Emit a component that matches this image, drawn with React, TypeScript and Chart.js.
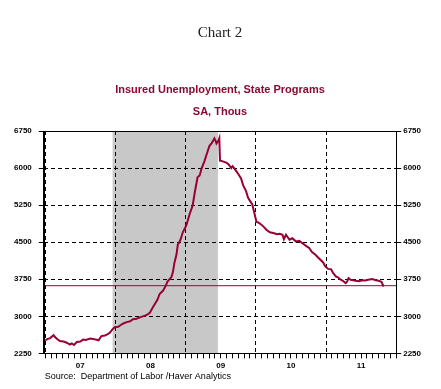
import React, { useEffect, useRef } from 'react';
import { Chart, registerables } from 'chart.js';

Chart.register(...registerables);

// Observation dates (decimal years) and insured unemployment, SA, thousands
const dates = [
  2007.00, 2007.03, 2007.07, 2007.12, 2007.14, 2007.17, 2007.21, 2007.26, 2007.30, 2007.33,
  2007.35, 2007.38, 2007.41, 2007.45, 2007.50, 2007.54, 2007.58, 2007.64, 2007.68, 2007.72,
  2007.76, 2007.80, 2007.85, 2007.89, 2007.92, 2007.96, 2007.99, 2008.04, 2008.08, 2008.12,
  2008.16, 2008.21, 2008.25, 2008.30, 2008.35, 2008.39, 2008.42, 2008.46, 2008.49, 2008.52,
  2008.56, 2008.60, 2008.63, 2008.68, 2008.72, 2008.74, 2008.80, 2008.82, 2008.84, 2008.87,
  2008.89, 2008.90, 2008.93, 2008.96, 2009.01, 2009.06, 2009.10, 2009.13, 2009.17, 2009.20,
  2009.23, 2009.27, 2009.30, 2009.34, 2009.37, 2009.39, 2009.41, 2009.43, 2009.44, 2009.47,
  2009.48, 2009.49, 2009.52, 2009.58, 2009.61, 2009.65, 2009.67, 2009.72, 2009.75, 2009.79,
  2009.82, 2009.86, 2009.89, 2009.95, 2009.99, 2010.01, 2010.04, 2010.08, 2010.12, 2010.15,
  2010.20, 2010.25, 2010.30, 2010.34, 2010.38, 2010.40, 2010.43, 2010.48, 2010.52, 2010.57,
  2010.62, 2010.66, 2010.72, 2010.76, 2010.80, 2010.85, 2010.88, 2010.92, 2010.96, 2010.99,
  2011.03, 2011.07, 2011.10, 2011.14, 2011.17, 2011.21, 2011.24, 2011.28, 2011.30, 2011.32,
  2011.35, 2011.42, 2011.47, 2011.51, 2011.56, 2011.60, 2011.66, 2011.71, 2011.75, 2011.79,
  2011.82,
];
const claims = [
  2510, 2540, 2560, 2620, 2580, 2540, 2500, 2490, 2470, 2450,
  2430, 2450, 2420, 2480, 2490, 2530, 2520, 2550, 2540, 2530,
  2515, 2600, 2610, 2640, 2667, 2740, 2779, 2790, 2830, 2860,
  2883, 2900, 2940, 2952, 2980, 3000, 3015, 3040, 3070, 3150,
  3244, 3340, 3452, 3521, 3625, 3700, 3800, 3900, 4077, 4250,
  4458, 4470, 4560, 4700, 4840, 5082, 5240, 5500, 5812, 5850,
  6000, 6146, 6280, 6450, 6500, 6550, 6600, 6540, 6497, 6560,
  6600, 6150, 6140, 6110, 6080, 6000, 6040, 5943, 5880, 5790,
  5650, 5538, 5400, 5265, 5023, 4910, 4895, 4855, 4800, 4753,
  4700, 4686, 4660, 4670, 4652, 4560, 4650, 4550, 4580, 4517,
  4530, 4483, 4420, 4382, 4300, 4247, 4200, 4145, 4090, 4010,
  3960, 3956, 3880, 3807, 3790, 3740, 3720, 3673, 3700, 3774,
  3740, 3720, 3710, 3730, 3726, 3740, 3754, 3730, 3720, 3700,
  3604,
];

const latestLevel = 3620;
const recessionStart = 2007.96;
const recessionEnd = 2009.46;
const yTicks = [2250, 3000, 3750, 4500, 5250, 6000, 6750];
const firstYear = 2007;
const yearLabels = ['07', '08', '09', '10', '11'];
const xMin = 2006.98;
const xMax = 2012.0;

const titleText = 'Chart 2';
const subtitleLines = ['Insured Unemployment, State Programs', 'SA, Thous'];
const sourceText = 'Source:  Department of Labor /Haver Analytics';

const lineColor = '#990033';
const titleRed = '#8b0a32';
const sansFamily = "'Liberation Sans', Arial, sans-serif";

const monthTicks: number[] = [];
for (let m = 0; m <= yearLabels.length * 12; m++) monthTicks.push(firstYear + m / 12);

const monthIndex = (v: number) => Math.round((v - firstYear) * 12);

const recessionPlugin = {
  id: 'recession',
  beforeDraw(chart: any) {
    const { ctx, chartArea, scales } = chart;
    const x1 = scales.x.getPixelForValue(recessionStart);
    const x2 = scales.x.getPixelForValue(recessionEnd);
    ctx.save();
    ctx.fillStyle = '#c8c8c8';
    ctx.fillRect(x1, chartArea.top, x2 - x1, chartArea.bottom - chartArea.top);
    ctx.restore();
  },
};

const framePlugin = {
  id: 'frame',
  afterDatasetsDraw(chart: any) {
    const { ctx, chartArea } = chart;
    ctx.save();
    ctx.strokeStyle = '#000';
    ctx.lineWidth = 1;
    ctx.strokeRect(
      Math.round(chartArea.left) + 0.5,
      Math.round(chartArea.top) + 0.5,
      Math.round(chartArea.right - chartArea.left),
      Math.round(chartArea.bottom - chartArea.top)
    );
    ctx.restore();
  },
  afterDraw(chart: any) {
    const { ctx, chartArea } = chart;
    ctx.save();
    ctx.font = `9px ${sansFamily}`;
    ctx.fillStyle = '#000';
    ctx.textBaseline = 'middle';
    ctx.textAlign = 'left';
    ctx.fillText(sourceText, chartArea.left + 1, chart.height - 12);
    ctx.restore();
  },
};

export default function App() {
  const ref = useRef<HTMLCanvasElement>(null);

  useEffect(() => {
    if (!ref.current) return;
    const tickFont = { family: sansFamily, size: 8, weight: 'bold' as const };
    const chart = new Chart(ref.current, {
      type: 'line',
      data: {
        datasets: [
          {
            data: dates.map((d, i) => ({ x: d, y: claims[i] })),
            borderColor: lineColor,
            borderWidth: 2,
            pointRadius: 0,
            tension: 0,
            fill: false,
          },
          {
            data: [
              { x: xMin, y: latestLevel },
              { x: xMax, y: latestLevel },
            ],
            borderColor: lineColor,
            borderWidth: 1,
            pointRadius: 0,
            fill: false,
          },
        ],
      },
      options: {
        animation: false,
        responsive: false,
        maintainAspectRatio: false,
        devicePixelRatio: 1,
        layout: { padding: { top: 0, left: 7, right: 18, bottom: 15 } },
        plugins: {
          legend: { display: false },
          tooltip: { enabled: false },
          title: {
            display: true,
            fullSize: false,
            text: titleText,
            color: '#222',
            font: { family: "'Liberation Serif', 'Times New Roman', serif", size: 15, weight: 'normal' },
            padding: { top: 24, bottom: 37 },
          },
          subtitle: {
            display: true,
            fullSize: false,
            text: subtitleLines,
            color: titleRed,
            font: { family: sansFamily, size: 11, weight: 'bold', lineHeight: 2 },
            padding: { top: 0, bottom: 8 },
          },
        },
        scales: {
          x: {
            type: 'linear',
            min: xMin,
            max: xMax,
            afterBuildTicks: (axis: any) => {
              axis.ticks = monthTicks.map((v) => ({ value: v }));
            },
            ticks: {
              autoSkip: false,
              maxRotation: 0,
              minRotation: 0,
              padding: 3,
              color: '#000',
              font: tickFont,
              callback: (v: any) => {
                const m = monthIndex(Number(v));
                if (m % 12 === 6) return yearLabels[Math.floor(m / 12)] ?? '';
                return '';
              },
            },
            grid: {
              drawOnChartArea: true,
              drawTicks: true,
              tickLength: 5,
              tickColor: '#000',
              tickBorderDash: [],
              lineWidth: 1,
              color: (c: any) =>
                c.tick && monthIndex(c.tick.value) % 12 === 0 ? '#000' : 'rgba(0,0,0,0)',
            },
            border: { display: true, color: '#000', width: 1, dash: [4, 3] },
          },
          y: {
            type: 'linear',
            position: 'left',
            min: yTicks[0],
            max: yTicks[yTicks.length - 1],
            afterBuildTicks: (axis: any) => {
              axis.ticks = yTicks.map((v) => ({ value: v }));
            },
            ticks: {
              padding: 7,
              color: '#000',
              font: tickFont,
              callback: (v: any) => String(v),
            },
            grid: {
              drawOnChartArea: true,
              drawTicks: true,
              tickLength: 5,
              tickColor: '#000',
              tickBorderDash: [],
              color: '#000',
              lineWidth: 1,
            },
            border: { display: true, color: '#000', width: 1, dash: [4, 3] },
          },
          y2: {
            type: 'linear',
            position: 'right',
            min: yTicks[0],
            max: yTicks[yTicks.length - 1],
            afterBuildTicks: (axis: any) => {
              axis.ticks = yTicks.map((v) => ({ value: v }));
            },
            ticks: {
              padding: 2,
              color: '#000',
              font: tickFont,
              callback: (v: any) => String(v),
            },
            grid: {
              drawOnChartArea: false,
              drawTicks: true,
              tickLength: 5,
              tickColor: '#000',
              tickBorderDash: [],
              color: '#000',
            },
            border: { display: true, color: '#000', width: 1 },
          },
        },
      },
      plugins: [recessionPlugin, framePlugin],
    });
    return () => chart.destroy();
  }, []);

  return (
    <div style={{ position: 'fixed', left: 0, top: 0, width: 441, height: 389, background: '#fff' }}>
      <canvas ref={ref} width={441} height={389} style={{ display: 'block' }} />
    </div>
  );
}
